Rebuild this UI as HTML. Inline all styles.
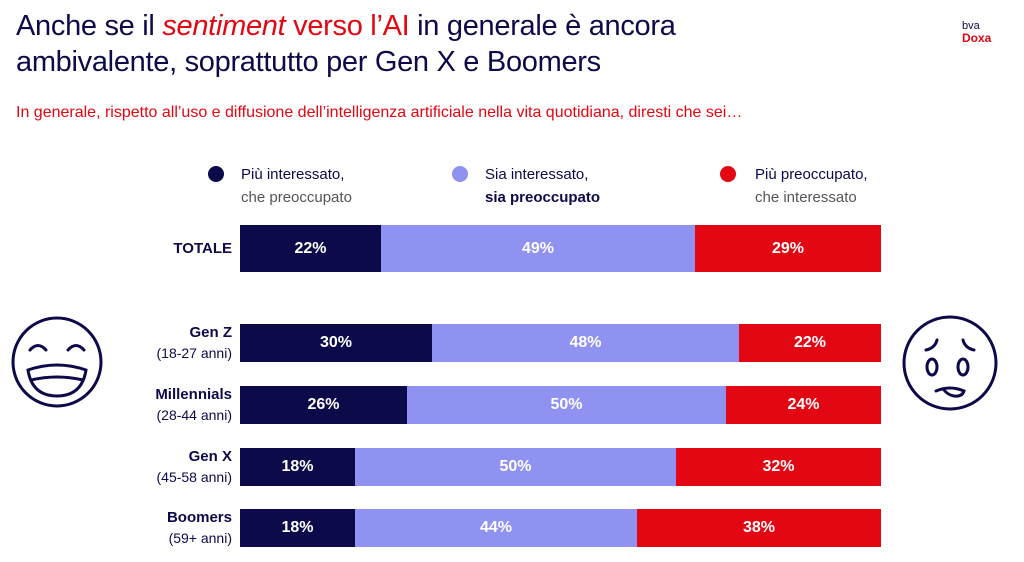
<!DOCTYPE html>
<html><head><meta charset="utf-8"><style>
body{margin:0;width:1024px;height:562px;background:#fff;position:relative;overflow:hidden;font-family:"Liberation Sans",sans-serif;color:#0d0a4a}
.a{position:absolute;white-space:nowrap}
.t{font-size:29px;left:16px;line-height:36px;letter-spacing:-0.3px}
.r{color:#e30613}
.bar{position:absolute;left:240px;width:641px;display:flex;color:#fff;font-size:16px;font-weight:bold}
.bar div{display:flex;align-items:center;justify-content:center}
.n{background:#0d0a4a}.l{background:#8f92f0}.d{background:#e30613}
.lab{position:absolute;right:792px;text-align:right;font-size:14px;line-height:21px}
.lab b{font-size:15px}
.lg{font-size:15px;line-height:23px}
.dot{position:absolute;width:16px;height:16px;border-radius:50%}
</style></head><body>
<div class="a t" style="top:8px">Anche se il <i class="r">sentiment</i> <span class="r">verso l’AI</span> in generale è ancora</div>
<div class="a t" style="top:44px">ambivalente, soprattutto per Gen X e Boomers</div>
<div class="a r" style="left:16px;top:104px;font-size:16px">In generale, rispetto all’uso e diffusione dell’intelligenza artificiale nella vita quotidiana, diresti che sei…</div>
<div class="a" style="left:962px;top:20px;font-size:11px;line-height:12px">bva<br><b class="r" style="font-size:12px">Doxa</b></div>

<div class="dot" style="left:208px;top:166px;background:#0d0a4a"></div>
<div class="a lg" style="left:241px;top:163px">Più interessato,<br><span style="color:#555">che preoccupato</span></div>
<div class="dot" style="left:452px;top:166px;background:#8f92f0"></div>
<div class="a lg" style="left:485px;top:163px">Sia interessato,<br><b>sia preoccupato</b></div>
<div class="dot" style="left:720px;top:166px;background:#e30613"></div>
<div class="a lg" style="left:755px;top:163px">Più preoccupato,<br><span style="color:#555">che interessato</span></div>

<div class="lab" style="top:238px"><b>TOTALE</b></div>
<div class="bar" style="top:225px;height:47px"><div class="n" style="width:141px">22%</div><div class="l" style="width:314px">49%</div><div class="d" style="flex:1">29%</div></div>

<div class="lab" style="top:322px"><b>Gen Z</b><br>(18-27 anni)</div>
<div class="bar" style="top:324px;height:38px"><div class="n" style="width:192px">30%</div><div class="l" style="width:307px">48%</div><div class="d" style="flex:1">22%</div></div>
<div class="lab" style="top:384px"><b>Millennials</b><br>(28-44 anni)</div>
<div class="bar" style="top:386px;height:38px"><div class="n" style="width:167px">26%</div><div class="l" style="width:319px">50%</div><div class="d" style="flex:1">24%</div></div>
<div class="lab" style="top:446px"><b>Gen X</b><br>(45-58 anni)</div>
<div class="bar" style="top:448px;height:38px"><div class="n" style="width:115px">18%</div><div class="l" style="width:321px">50%</div><div class="d" style="flex:1">32%</div></div>
<div class="lab" style="top:507px"><b>Boomers</b><br>(59+ anni)</div>
<div class="bar" style="top:509px;height:38px"><div class="n" style="width:115px">18%</div><div class="l" style="width:282px">44%</div><div class="d" style="flex:1">38%</div></div>

<svg class="a" style="left:0;top:300px" width="120" height="120" fill="none" stroke="#0d0a4a" stroke-width="3" stroke-linecap="round">
<circle cx="57" cy="62" r="44"/>
<path d="M30 50q8-9 16 0M68 50q8-9 16 0"/>
<path d="M28 70q29-10 58 0q-4 26-29 26q-25 0-29-26z"/>
<path d="M31 80q26-6 52 0"/>
</svg>
<svg class="a" style="left:890px;top:300px" width="120" height="130" fill="none" stroke="#0d0a4a" stroke-width="3" stroke-linecap="round">
<circle cx="60" cy="63" r="46"/>
<path d="M36 50q9-2 11-10M73 40q2 8 11 10"/>
<ellipse cx="42" cy="67" rx="5" ry="8"/><ellipse cx="73" cy="67" rx="5" ry="8"/>
<path d="M46 91q14-6 28 0q-2 6-10 5q-6-1-10-6"/>
</svg>
</body></html>
